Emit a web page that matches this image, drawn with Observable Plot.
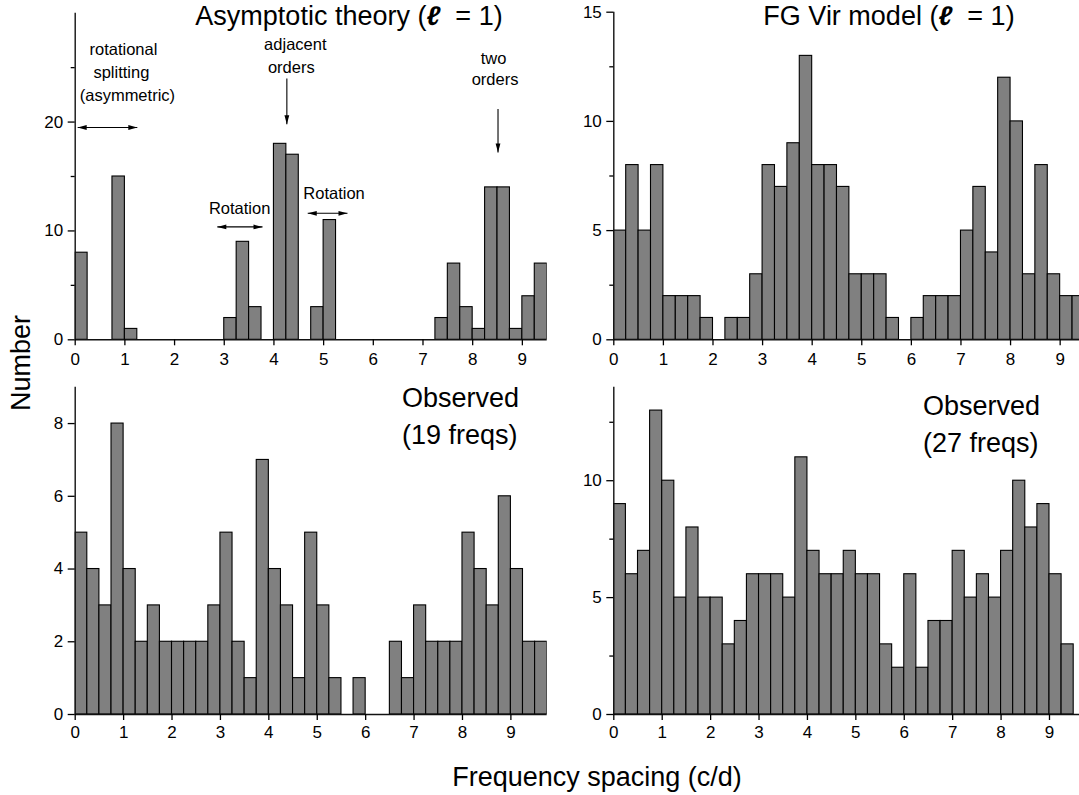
<!DOCTYPE html>
<html>
<head>
<meta charset="utf-8">
<script src="https://cdn.jsdelivr.net/npm/d3@7"></script>
<script src="https://cdn.jsdelivr.net/npm/@observablehq/plot@0.6"></script>
<style>
  body { margin: 0; background: #fff; }
  #wrap { position: relative; width: 1079px; height: 795px; overflow: hidden;
          font-family: "Liberation Sans", Arial, Helvetica, sans-serif; }
  .panel { position: absolute; }
  .panel svg { max-width: none; overflow: visible; }
  #overlay { position: absolute; left: 0; top: 0; pointer-events: none; }
</style>
</head>
<body>
<div id="wrap"></div>
<script>
// ---- data: histogram bin starts (bin width 0.25 c/d) and counts ----
const binWidth = 0.25;
const binStarts = [0, 0.25, 0.5, 0.75, 1, 1.25, 1.5, 1.75, 2, 2.25, 2.5, 2.75, 3, 3.25, 3.5, 3.75,
  4, 4.25, 4.5, 4.75, 5, 5.25, 5.5, 5.75, 6, 6.25, 6.5, 6.75, 7, 7.25, 7.5, 7.75,
  8, 8.25, 8.5, 8.75, 9, 9.25, 9.5];

const asymptoticCounts = [8, 0, 0, 15, 1, 0, 0, 0, 0, 0, 0, 0, 2, 9, 3, 0,
  18, 17, 0, 3, 11, 0, 0, 0, 0, 0, 0, 0, 0, 2, 7, 3, 1, 14, 14, 1, 4, 7];
const fgVirCounts = [5, 8, 5, 8, 2, 2, 2, 1, 0, 1, 1, 3, 8, 7, 9, 13,
  8, 8, 7, 3, 3, 3, 1, 0, 1, 2, 2, 2, 5, 7, 4, 12, 10, 3, 8, 3, 2, 2];
const observed19Counts = [5, 4, 3, 8, 4, 2, 3, 2, 2, 2, 2, 3, 5, 2, 1, 7,
  4, 3, 1, 5, 3, 1, 0, 1, 0, 0, 2, 1, 3, 2, 2, 2, 5, 4, 3, 6, 4, 2, 2];
const observed27Counts = [9, 6, 7, 13, 10, 5, 8, 5, 5, 3, 4, 6, 6, 6, 5, 11,
  7, 6, 6, 7, 6, 6, 3, 2, 6, 2, 4, 4, 7, 5, 6, 5, 7, 10, 8, 9, 6, 3];

// ---- tick labels ----
const xTicks = [0, 1, 2, 3, 4, 5, 6, 7, 8, 9];
const yTicksAsym = [0, 10, 20];       const yMinorAsym = [5, 15, 25];
const yTicksFG = [0, 5, 10, 15];      const yMinorFG = [2.5, 7.5, 12.5];
const yTicksObs19 = [0, 2, 4, 6, 8];  const yMinorObs19 = [];
const yTicksObs27 = [0, 5, 10];       const yMinorObs27 = [2.5, 7.5, 12.5];

// ---- annotations of the asymptotic-theory panel (data units) ----
const noteLabels = ["rotational", "splitting", "(asymmetric)", "adjacent", "orders",
  "Rotation", "Rotation", "two", "orders"];
const noteX = [0.97, 0.93, 1.05, 4.43, 4.35, 3.31, 5.21, 8.42, 8.45];
const noteY = [26.6, 24.55, 22.4, 27.1, 25.0, 12.0, 13.4, 25.8, 23.9];
// arrows: shaft x1,y1 -> x2,y2 ; double = heads at both ends
const arrowX1 = [0.05, 4.26, 2.86, 4.68, 8.51];
const arrowY1 = [19.5, 24.0, 10.37, 11.62, 21.2];
const arrowX2 = [1.25, 4.26, 3.77, 5.48, 8.51];
const arrowY2 = [19.5, 19.8, 10.37, 11.62, 17.2];
const arrowDouble = [true, false, true, true, false];

const FONT = '"Liberation Sans", Arial, Helvetica, sans-serif';

function binsOf(counts) {
  return counts.map((n, i) => ({x0: binStarts[i], x1: binStarts[i] + binWidth, n}))
               .filter(d => d.n > 0);
}

function panel(opts) {
  const {counts, left, top, width, height, mL, mR, mT, mB, xMax, yMax, yMajor, yMinor, xPad, extra = []} = opts;
  const chart = Plot.plot({
    width, height,
    marginLeft: mL, marginRight: mR, marginTop: mT, marginBottom: mB,
    x: {domain: [0, xMax]},
    y: {domain: [0, yMax]},
    style: {fontFamily: FONT, fontSize: "17px", color: "#000", background: "transparent", overflow: "visible"},
    marks: [
      Plot.rect(binsOf(counts), {x1: "x0", x2: "x1", y1: 0, y2: "n",
        fill: "#808080", stroke: "#000", strokeWidth: 1.1, clip: true}),
      Plot.ruleY([0], {stroke: "#111", strokeWidth: 1.4}),
      Plot.ruleX([0], {stroke: "#111", strokeWidth: 1.4}),
      Plot.axisX({ticks: xTicks, tickSize: 6, tickPadding: xPad, tickFormat: d3.format("d"),
        label: null, strokeWidth: 1.3}),
      Plot.axisY({ticks: yMajor, tickSize: 7, tickPadding: 5, tickFormat: d3.format("d"),
        label: null, strokeWidth: 1.3}),
      ...(yMinor.length ? [Plot.axisY({ticks: yMinor, tickSize: 4, tickFormat: () => "", label: null, strokeWidth: 1.3})] : []),
      ...extra
    ]
  });
  const div = document.createElement("div");
  div.className = "panel";
  div.style.left = left + "px";
  div.style.top = top + "px";
  div.appendChild(chart);
  document.getElementById("wrap").appendChild(div);
}

// arrow marks for the annotated panel
const arrowRows = arrowX1.map((x1, i) => ({x1, y1: arrowY1[i], x2: arrowX2[i], y2: arrowY2[i], dbl: arrowDouble[i]}));
const heads = [];
arrowRows.forEach(a => {
  const horiz = a.y1 === a.y2;
  // head at end point
  heads.push({x: a.x2, y: a.y2, rot: horiz ? (a.x2 > a.x1 ? 90 : 270) : (a.y2 < a.y1 ? 180 : 0)});
  if (a.dbl) heads.push({x: a.x1, y: a.y1, rot: horiz ? (a.x1 < a.x2 ? 270 : 90) : (a.y1 < a.y2 ? 180 : 0)});
});
const headShape = {
  draw(context, l) {
    context.moveTo(0, -l);
    context.lineTo(-2.4, 0);
    context.lineTo(2.4, 0);
    context.closePath();
  }
};
const notes = noteLabels.map((t, i) => ({t, x: noteX[i], y: noteY[i]}));
const annotationMarks = [
  Plot.link(arrowRows, {x1: "x1", y1: "y1", x2: "x2", y2: "y2", stroke: "#000", strokeWidth: 1.1}),
  Plot.vector(heads, {x: "x", y: "y", rotate: "rot", length: 9, anchor: "end", shape: headShape,
    fill: "#000", stroke: "none"}),
  Plot.text(notes, {x: "x", y: "y", text: "t", fontSize: 16.5, fill: "#000", textAnchor: "middle"})
];

// top-left: asymptotic theory
panel({counts: asymptoticCounts, left: 0, top: 0, width: 560, height: 370,
  mL: 74.7, mR: 13.3, mT: 12.7, mB: 30.7, xMax: 9.5, yMax: 30,
  yMajor: yTicksAsym, yMinor: yMinorAsym, xPad: 7, extra: annotationMarks});
// top-right: FG Vir model
panel({counts: fgVirCounts, left: 560, top: 0, width: 519, height: 370,
  mL: 53.3, mR: 0, mT: 11.7, mB: 30.7, xMax: 9.39, yMax: 15,
  yMajor: yTicksFG, yMinor: yMinorFG, xPad: 7});
// bottom-left: observed 19 freqs
panel({counts: observed19Counts, left: 0, top: 370, width: 560, height: 380,
  mL: 74.7, mR: 13.3, mT: 16.7, mB: 36, xMax: 9.75, yMax: 9,
  yMajor: yTicksObs19, yMinor: yMinorObs19, xPad: 5});
// bottom-right: observed 27 freqs
panel({counts: observed27Counts, left: 560, top: 370, width: 519, height: 380,
  mL: 53.3, mR: 0, mT: 16.7, mB: 36, xMax: 9.62, yMax: 14,
  yMajor: yTicksObs27, yMinor: yMinorObs27, xPad: 5});

// ---- overlay text: titles, panel labels and axis titles ----
const svg = d3.select("#wrap").append("svg").attr("id", "overlay")
  .attr("width", 1079).attr("height", 795)
  .style("font-family", FONT).style("fill", "#000");

function title(x, y, pre, post) {
  const t = svg.append("text").attr("x", x).attr("y", y).attr("text-anchor", "middle").attr("font-size", 27);
  t.append("tspan").text(pre);
  t.append("tspan").attr("font-style", "italic").attr("font-weight", "bold").text("ℓ");
  t.append("tspan").attr("xml:space", "preserve").text("\u00a0 = " + post);
}
title(349, 25, "Asymptotic theory (", "1)");
title(889, 25, "FG Vir model (", "1)");

function lbl(x, y, s, anchor = "start") {
  svg.append("text").attr("x", x).attr("y", y).attr("text-anchor", anchor).attr("font-size", 27).text(s);
}
lbl(402, 407, "Observed");
lbl(402, 443.5, "(19 freqs)");
lbl(923, 415, "Observed");
lbl(923, 452, "(27 freqs)");
lbl(597, 786, "Frequency spacing (c/d)", "middle");
svg.append("text").attr("transform", "translate(30,363) rotate(-90)")
  .attr("text-anchor", "middle").attr("font-size", 27).text("Number");
</script>
</body>
</html>
